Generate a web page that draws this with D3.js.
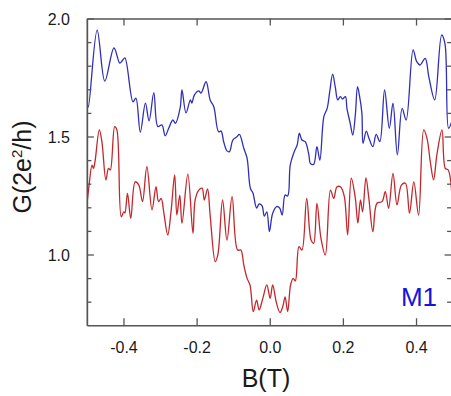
<!DOCTYPE html>
<html>
<head>
<meta charset="utf-8">
<script src="https://cdn.jsdelivr.net/npm/d3@7"></script>
<style>
  body { margin: 0; background: #fff; }
  svg { display: block; font-family: "Liberation Sans", Arial, sans-serif; }
</style>
</head>
<body>
<div id="chart"></div>
<script>
// magnetic field B (T) and conductance G (2e^2/h) for the two traces
const blueB = [-0.5,-0.496,-0.472,-0.451,-0.426,-0.410,-0.403,-0.396,-0.374,-0.366,-0.354,-0.340,-0.330,-0.317,-0.306,-0.295,-0.286,-0.276,-0.265,-0.258,-0.245,-0.240,-0.229,-0.217,-0.213,-0.206,-0.194,-0.188,-0.174,-0.163,-0.153,-0.140,-0.133,-0.126,-0.117,-0.110,-0.101,-0.090,-0.083,-0.071,-0.062,-0.053,-0.046,-0.036,-0.029,-0.021,-0.015,-0.008,-0.001,0.008,0.019,0.027,0.034,0.042,0.049,0.056,0.066,0.075,0.081,0.088,0.097,0.107,0.111,0.120,0.129,0.137,0.148,0.157,0.164,0.172,0.179,0.186,0.193,0.199,0.207,0.211,0.220,0.227,0.234,0.240,0.245,0.252,0.255,0.264,0.271,0.282,0.291,0.301,0.314,0.327,0.337,0.349,0.362,0.373,0.392,0.402,0.411,0.425,0.435,0.451,0.470,0.479,0.489,0.499];
const blueG = [1.667,1.625,1.951,1.735,1.875,1.811,1.822,1.833,1.647,1.663,1.518,1.641,1.566,1.686,1.542,1.549,1.503,1.536,1.570,1.556,1.621,1.697,1.600,1.655,1.642,1.676,1.693,1.684,1.732,1.655,1.626,1.520,1.523,1.478,1.439,1.436,1.485,1.499,1.509,1.450,1.408,1.281,1.261,1.197,1.214,1.206,1.163,1.181,1.097,1.175,1.203,1.197,1.167,1.252,1.248,1.379,1.432,1.464,1.514,1.485,1.478,1.422,1.386,1.382,1.457,1.400,1.584,1.619,1.690,1.764,1.711,1.655,1.669,1.659,1.669,1.619,1.556,1.506,1.591,1.711,1.676,1.598,1.471,1.523,1.494,1.457,1.509,1.478,1.697,1.535,1.641,1.422,1.619,1.570,1.867,1.817,1.803,1.831,1.753,1.655,1.930,1.895,1.535,1.570];

const redB = [-0.5,-0.494,-0.486,-0.482,-0.478,-0.466,-0.459,-0.448,-0.441,-0.436,-0.424,-0.418,-0.406,-0.399,-0.396,-0.389,-0.380,-0.368,-0.358,-0.348,-0.336,-0.322,-0.311,-0.304,-0.297,-0.290,-0.279,-0.270,-0.260,-0.254,-0.246,-0.240,-0.224,-0.210,-0.204,-0.194,-0.185,-0.179,-0.170,-0.163,-0.149,-0.142,-0.129,-0.117,-0.103,-0.088,-0.079,-0.071,-0.062,-0.054,-0.045,-0.036,-0.029,-0.019,-0.008,0.001,0.008,0.018,0.028,0.036,0.042,0.049,0.057,0.064,0.070,0.080,0.088,0.101,0.113,0.120,0.129,0.140,0.152,0.166,0.175,0.184,0.194,0.204,0.213,0.223,0.234,0.241,0.248,0.254,0.263,0.271,0.282,0.293,0.307,0.316,0.325,0.337,0.348,0.360,0.371,0.382,0.394,0.407,0.421,0.430,0.439,0.448,0.457,0.471,0.480,0.488,0.499];
const redG = [1.210,1.294,1.379,1.365,1.392,1.528,1.478,1.316,1.365,1.358,1.542,1.528,1.160,1.181,1.176,1.259,1.153,1.308,1.294,1.224,1.372,1.189,1.287,1.224,1.238,1.181,1.083,1.181,1.337,1.167,1.252,1.132,1.340,1.090,1.231,1.273,1.281,1.231,1.278,1.167,0.970,0.998,1.231,1.061,1.245,1.019,1.019,0.956,0.899,0.871,0.758,0.807,0.765,0.814,0.871,0.814,0.871,0.797,0.754,0.782,0.820,0.758,0.871,0.899,0.888,1.033,1.019,1.238,1.061,1.047,1.217,1.069,0.998,1.273,1.238,1.287,1.286,1.245,1.083,1.323,1.238,1.133,1.231,1.181,1.325,1.238,1.097,1.217,1.224,1.266,1.196,1.344,1.210,1.294,1.302,1.175,1.308,1.167,1.528,1.492,1.393,1.316,1.422,1.528,1.365,1.358,1.224];

const xTicks = [-0.4, -0.2, 0.0, 0.2, 0.4];
const yTicks = [1.0, 1.5, 2.0];
const yMinor = [0.8, 0.9, 1.1, 1.2, 1.3, 1.4, 1.6, 1.7, 1.8, 1.9];

const width = 451;
const height = 396;

const svg = d3.select('#chart')
  .append('svg')
  .attr('width', width)
  .attr('height', height);

const x = d3.scaleLinear().domain([-0.5, 0.5]).range([86.9, 452.6]);
const y = d3.scaleLinear().domain([0.7, 2.0]).range([325.3, 18.5]);

const axisColor = '#555';
// plain hyphen for negatives, like the original figure
const fmt = d => d3.format('.1f')(d).replace('\u2212', '-');

// clip to the plot area
svg.append('clipPath').attr('id', 'plot')
  .append('rect')
  .attr('x', x(-0.5)).attr('y', y(2.0))
  .attr('width', x(0.5) - x(-0.5)).attr('height', y(0.7) - y(2.0));

const line = d3.line()
  .x(d => x(d[0]))
  .y(d => y(d[1]))
  .curve(d3.curveCatmullRom.alpha(0.5));

const traces = [
  { b: blueB, g: blueG, color: '#2f2fb8' },
  { b: redB, g: redG, color: '#c3272c' }
];

traces.forEach(t => {
  svg.append('path')
    .datum(t.b.map((v, i) => [v, t.g[i]]))
    .attr('clip-path', 'url(#plot)')
    .attr('fill', 'none')
    .attr('stroke', t.color)
    .attr('stroke-width', 1.3)
    .attr('d', line);
});

// axes, ticks pointing inward
const axBottom = svg.append('g').attr('transform', `translate(0,${y(0.7)})`)
  .call(d3.axisBottom(x).tickValues(xTicks).tickSizeInner(-7).tickSizeOuter(0)
    .tickPadding(16).tickFormat(fmt));
const axTop = svg.append('g').attr('transform', `translate(0,${y(2.0)})`)
  .call(d3.axisTop(x).tickValues(xTicks).tickSizeInner(-7).tickSizeOuter(0).tickFormat(''));
const axLeft = svg.append('g').attr('transform', `translate(${x(-0.5)},0)`)
  .call(d3.axisLeft(y).tickValues(yTicks).tickSizeInner(-7).tickSizeOuter(0)
    .tickPadding(17).tickFormat(fmt));
const axRight = svg.append('g').attr('transform', `translate(${x(0.5) - 1},0)`)
  .call(d3.axisRight(y).tickValues(yTicks).tickSizeInner(-7).tickSizeOuter(0).tickFormat(''));
const leftMinor = svg.append('g').attr('transform', `translate(${x(-0.5)},0)`)
  .call(d3.axisLeft(y).tickValues(yMinor).tickSizeInner(-4.5).tickSizeOuter(0).tickFormat(''));
const rightMinor = svg.append('g').attr('transform', `translate(${x(0.5) - 1},0)`)
  .call(d3.axisRight(y).tickValues(yMinor).tickSizeInner(-4.5).tickSizeOuter(0).tickFormat(''));

[axBottom, axTop, axLeft, axRight, leftMinor, rightMinor].forEach(g => {
  g.select('.domain').attr('stroke', axisColor).attr('stroke-width', 1.4);
  g.selectAll('.tick line').attr('stroke', axisColor).attr('stroke-width', 1.3);
  g.selectAll('.tick text')
    .attr('fill', '#1a1a1a')
    .style('font-size', '16px')
    .style('font-family', '"Liberation Sans", Arial, sans-serif');
});
axLeft.selectAll('.tick text').attr('dy', '0.36em');

// axis titles
svg.append('text')
  .attr('x', 266)
  .attr('y', 387)
  .attr('text-anchor', 'middle')
  .attr('fill', '#1a1a1a')
  .style('font-size', '25px')
  .text('B(T)');

const yTitle = svg.append('text')
  .attr('transform', 'translate(31,167) rotate(-90)')
  .attr('text-anchor', 'middle')
  .attr('fill', '#1a1a1a')
  .style('font-size', '25px');
yTitle.append('tspan').text('G(2e');
yTitle.append('tspan').attr('dy', -9).style('font-size', '15px').text('2');
yTitle.append('tspan').attr('dy', 9).text('/h)');

svg.append('text')
  .attr('x', 437)
  .attr('y', 306)
  .attr('text-anchor', 'end')
  .attr('fill', '#1414dc')
  .style('font-size', '26px')
  .text('M1');
</script>
</body>
</html>
